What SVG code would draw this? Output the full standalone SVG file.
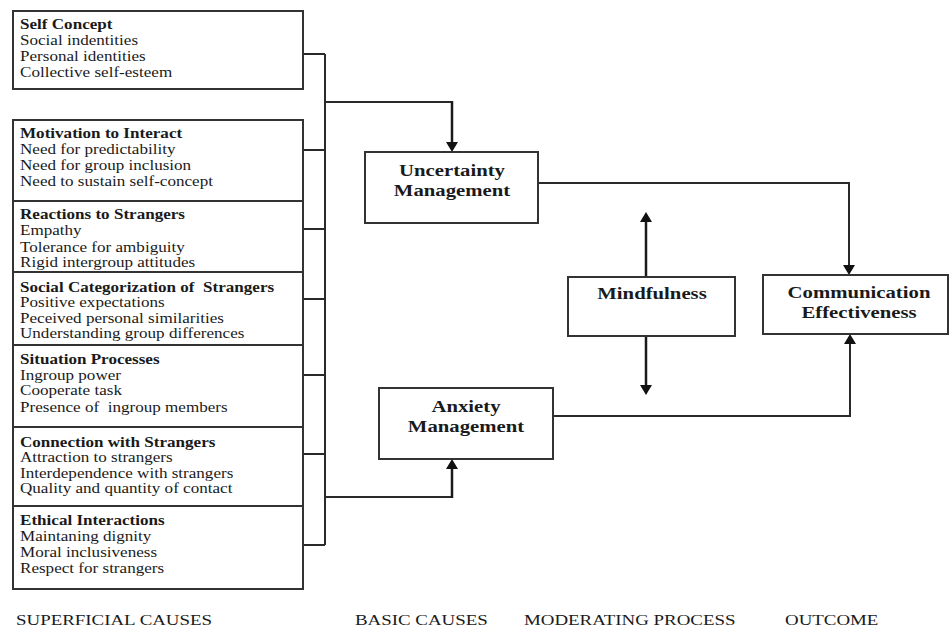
<svg xmlns="http://www.w3.org/2000/svg" width="949" height="627" viewBox="0 0 949 627">
<style>
  .box { fill: #ffffff; stroke: #333333; stroke-width: 2; }
  .t { font-family: "Liberation Serif", "Times New Roman", serif; font-size: 14px; fill: #1a1a1a; }
  .h { font-weight: bold; }
  .n { font-family: "Liberation Serif", "Times New Roman", serif; font-size: 17px; font-weight: bold; fill: #1a1a1a; text-anchor: middle; }
  .lbl { font-family: "Liberation Serif", "Times New Roman", serif; font-size: 15.5px; fill: #1a1a1a; }
  .c { fill: none; stroke: #2a2a2a; stroke-width: 2; }
  .ca { fill: none; stroke: #1a1a1a; stroke-width: 2.5; }
</style>
<defs>
  <marker id="arr" viewBox="0 0 10 12" refX="0" refY="6" markerWidth="10" markerHeight="12" markerUnits="userSpaceOnUse" orient="auto">
    <path d="M0,0 L10,6 L0,12 z" fill="#111111"/>
  </marker>
</defs>
<rect width="949" height="627" fill="#ffffff"/>

<g id="connectors">
  <line class="c" x1="325" y1="54" x2="325" y2="545"/>
  <line class="c" x1="303" y1="54" x2="325" y2="54"/>
  <line class="c" x1="303" y1="150" x2="325" y2="150"/>
  <line class="c" x1="303" y1="229" x2="325" y2="229"/>
  <line class="c" x1="303" y1="299" x2="325" y2="299"/>
  <line class="c" x1="303" y1="375" x2="325" y2="375"/>
  <line class="c" x1="303" y1="454" x2="325" y2="454"/>
  <line class="c" x1="303" y1="545" x2="325" y2="545"/>
  <path class="c" d="M325,102 H452"/>
  <path class="ca" d="M452,101 V142" stroke-width="3" marker-end="url(#arr)"/>
  <path class="c" d="M325,497 H452"/>
  <path class="ca" d="M452,498 V469" stroke-width="3" marker-end="url(#arr)"/>
  <path class="c" d="M538,183 H849 V265" marker-end="url(#arr)"/>
  <path class="c" d="M553,416 H850 V344" marker-end="url(#arr)"/>
  <path class="ca" d="M646,277 V222" marker-end="url(#arr)"/>
  <path class="ca" d="M646,336 V385" marker-end="url(#arr)"/>
</g>

<g id="self-concept">
  <rect class="box" x="13" y="11" width="290" height="78"/>
  <g transform="translate(20 0) scale(1.22 1)">
    <text class="t h" x="0" y="29">Self Concept</text>
    <text class="t" x="0" y="45">Social indentities</text>
    <text class="t" x="0" y="61">Personal identities</text>
    <text class="t" x="0" y="77">Collective self-esteem</text>
  </g>
</g>

<g id="motivation">
  <rect class="box" x="13" y="120" width="290" height="81"/>
  <g transform="translate(20 0) scale(1.22 1)">
    <text class="t h" x="0" y="138">Motivation to Interact</text>
    <text class="t" x="0" y="154">Need for predictability</text>
    <text class="t" x="0" y="170">Need for group inclusion</text>
    <text class="t" x="0" y="186">Need to sustain self-concept</text>
  </g>
</g>

<g id="reactions">
  <rect class="box" x="13" y="201" width="290" height="71"/>
  <g transform="translate(20 0) scale(1.22 1)">
    <text class="t h" x="0" y="219">Reactions to Strangers</text>
    <text class="t" x="0" y="235">Empathy</text>
    <text class="t" x="0" y="252">Tolerance for ambiguity</text>
    <text class="t" x="0" y="267">Rigid intergroup attitudes</text>
  </g>
</g>

<g id="social-categorization">
  <rect class="box" x="13" y="272" width="290" height="73"/>
  <g transform="translate(20 0) scale(1.22 1)">
    <text class="t h" x="0" y="292" xml:space="preserve">Social Categorization of  Strangers</text>
    <text class="t" x="0" y="307">Positive expectations</text>
    <text class="t" x="0" y="323">Peceived personal similarities</text>
    <text class="t" x="0" y="338">Understanding group differences</text>
  </g>
</g>

<g id="situation">
  <rect class="box" x="13" y="345" width="290" height="82"/>
  <g transform="translate(20 0) scale(1.22 1)">
    <text class="t h" x="0" y="364">Situation Processes</text>
    <text class="t" x="0" y="380">Ingroup power</text>
    <text class="t" x="0" y="395">Cooperate task</text>
    <text class="t" x="0" y="412" xml:space="preserve">Presence of  ingroup members</text>
  </g>
</g>

<g id="connection">
  <rect class="box" x="13" y="427" width="290" height="79"/>
  <g transform="translate(20 0) scale(1.22 1)">
    <text class="t h" x="0" y="447">Connection with Strangers</text>
    <text class="t" x="0" y="462">Attraction to strangers</text>
    <text class="t" x="0" y="478">Interdependence with strangers</text>
    <text class="t" x="0" y="493">Quality and quantity of contact</text>
  </g>
</g>

<g id="ethical">
  <rect class="box" x="13" y="506" width="290" height="83"/>
  <g transform="translate(20 0) scale(1.22 1)">
    <text class="t h" x="0" y="525">Ethical Interactions</text>
    <text class="t" x="0" y="541">Maintaning dignity</text>
    <text class="t" x="0" y="557">Moral inclusiveness</text>
    <text class="t" x="0" y="573">Respect for strangers</text>
  </g>
</g>

<g id="uncertainty">
  <rect class="box" x="365" y="152" width="173" height="71"/>
  <g transform="translate(452 0) scale(1.22 1)">
    <text class="n" x="0" y="176">Uncertainty</text>
    <text class="n" x="0" y="196">Management</text>
  </g>
</g>

<g id="anxiety">
  <rect class="box" x="379" y="388" width="174" height="71"/>
  <g transform="translate(466 0) scale(1.22 1)">
    <text class="n" x="0" y="412">Anxiety</text>
    <text class="n" x="0" y="432">Management</text>
  </g>
</g>

<g id="mindfulness">
  <rect class="box" x="568" y="277" width="167" height="59"/>
  <g transform="translate(652 0) scale(1.22 1)">
    <text class="n" x="0" y="299">Mindfulness</text>
  </g>
</g>

<g id="communication">
  <rect class="box" x="763" y="275" width="185" height="59"/>
  <g transform="translate(859 0) scale(1.22 1)">
    <text class="n" x="0" y="298">Communication</text>
    <text class="n" x="0" y="318">Effectiveness</text>
  </g>
</g>

<g id="labels">
  <g transform="translate(16 0) scale(1.22 1)"><text class="lbl" x="0" y="625">SUPERFICIAL CAUSES</text></g>
  <g transform="translate(355 0) scale(1.22 1)"><text class="lbl" x="0" y="625">BASIC CAUSES</text></g>
  <g transform="translate(524 0) scale(1.22 1)"><text class="lbl" x="0" y="625">MODERATING PROCESS</text></g>
  <g transform="translate(785 0) scale(1.22 1)"><text class="lbl" x="0" y="625">OUTCOME</text></g>
</g>
</svg>
